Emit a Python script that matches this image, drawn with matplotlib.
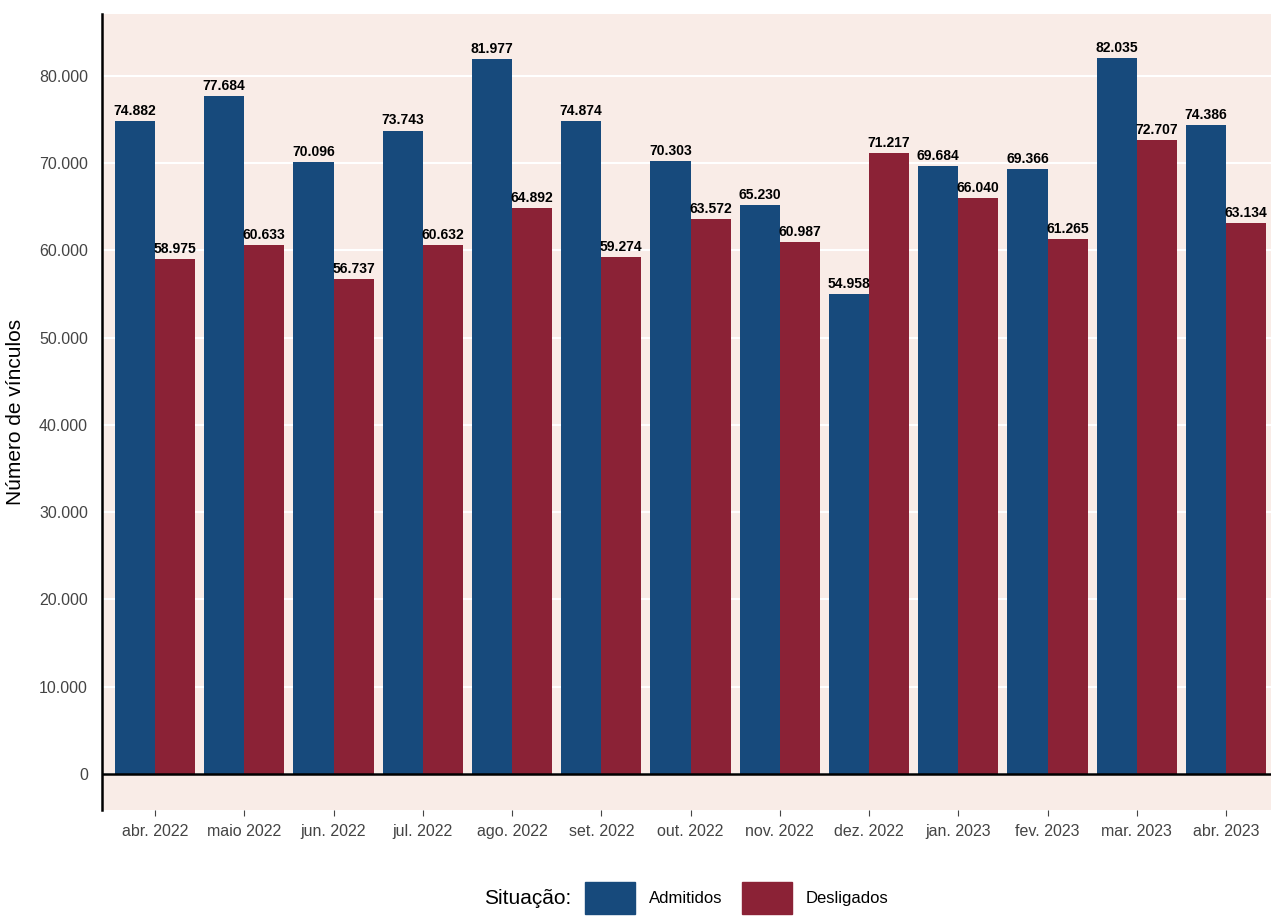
import numpy as np
import matplotlib.pyplot as plt
from matplotlib.patches import Patch
from matplotlib.offsetbox import HPacker

plt.rcParams["font.family"] = ["Liberation Sans", "DejaVu Sans"]

months = ["abr. 2022", "maio 2022", "jun. 2022", "jul. 2022", "ago. 2022", "set. 2022",
          "out. 2022", "nov. 2022", "dez. 2022", "jan. 2023", "fev. 2023", "mar. 2023", "abr. 2023"]
admitidos = [74882, 77684, 70096, 73743, 81977, 74874, 70303, 65230, 54958, 69684, 69366, 82035, 74386]
desligados = [58975, 60633, 56737, 60632, 64892, 59274, 63572, 60987, 71217, 66040, 61265, 72707, 63134]

blue = "#174A7C"
red = "#8B2236"


def fmt(v):
    return f"{v:,}".replace(",", ".")


fig = plt.figure(figsize=(12.71, 9.22), dpi=100)
ax = fig.add_axes([102 / 1271, 112 / 922, 1169 / 1271, 796 / 922])
ax.set_facecolor("#F9ECE7")

x = np.arange(len(months))
w = 0.45
ax.bar(x - w / 2, admitidos, w, color=blue, zorder=3)
ax.bar(x + w / 2, desligados, w, color=red, zorder=3)
for xi, a, d in zip(x, admitidos, desligados):
    ax.text(xi - w / 2, a + 350, fmt(a), ha="center", va="bottom", fontsize=10, fontweight="bold", zorder=4)
    ax.text(xi + w / 2, d + 350, fmt(d), ha="center", va="bottom", fontsize=10, fontweight="bold", zorder=4)

ax.set_xlim(-0.594, 12.504)
ax.set_ylim(-4126, 87100)
ax.set_yticks(np.arange(0, 80001, 10000))
ax.set_yticklabels([fmt(v) for v in range(0, 80001, 10000)])
ax.set_xticks(x)
ax.set_xticklabels(months)
ax.tick_params(axis="both", colors="#444444", labelsize=11.5, length=4)
ax.tick_params(axis="x", pad=6)
ax.tick_params(axis="y", length=0, pad=10)
ax.grid(axis="y", color="white", lw=1.5, zorder=1)
ax.axhline(0, color="black", lw=1.8, zorder=5)
for s in ["top", "right", "bottom"]:
    ax.spines[s].set_visible(False)
ax.spines["left"].set_linewidth(1.8)
ax.set_ylabel("Número de vínculos", fontsize=15, labelpad=10)

handles = [Patch(color=blue, label="Admitidos"), Patch(color=red, label="Desligados")]
leg = fig.legend(handles=handles, loc="lower center", bbox_to_anchor=(0.54, -0.008), ncol=2,
                 frameon=False, fontsize=12, handlelength=3, handleheight=2.6,
                 title="Situação:", columnspacing=1.2, handletextpad=0.8)
leg.get_title().set_fontsize(15)
box = leg._legend_box
box._children = [HPacker(children=box._children, align="center", pad=0, sep=10)]
fig.savefig("out.png", dpi=100)
